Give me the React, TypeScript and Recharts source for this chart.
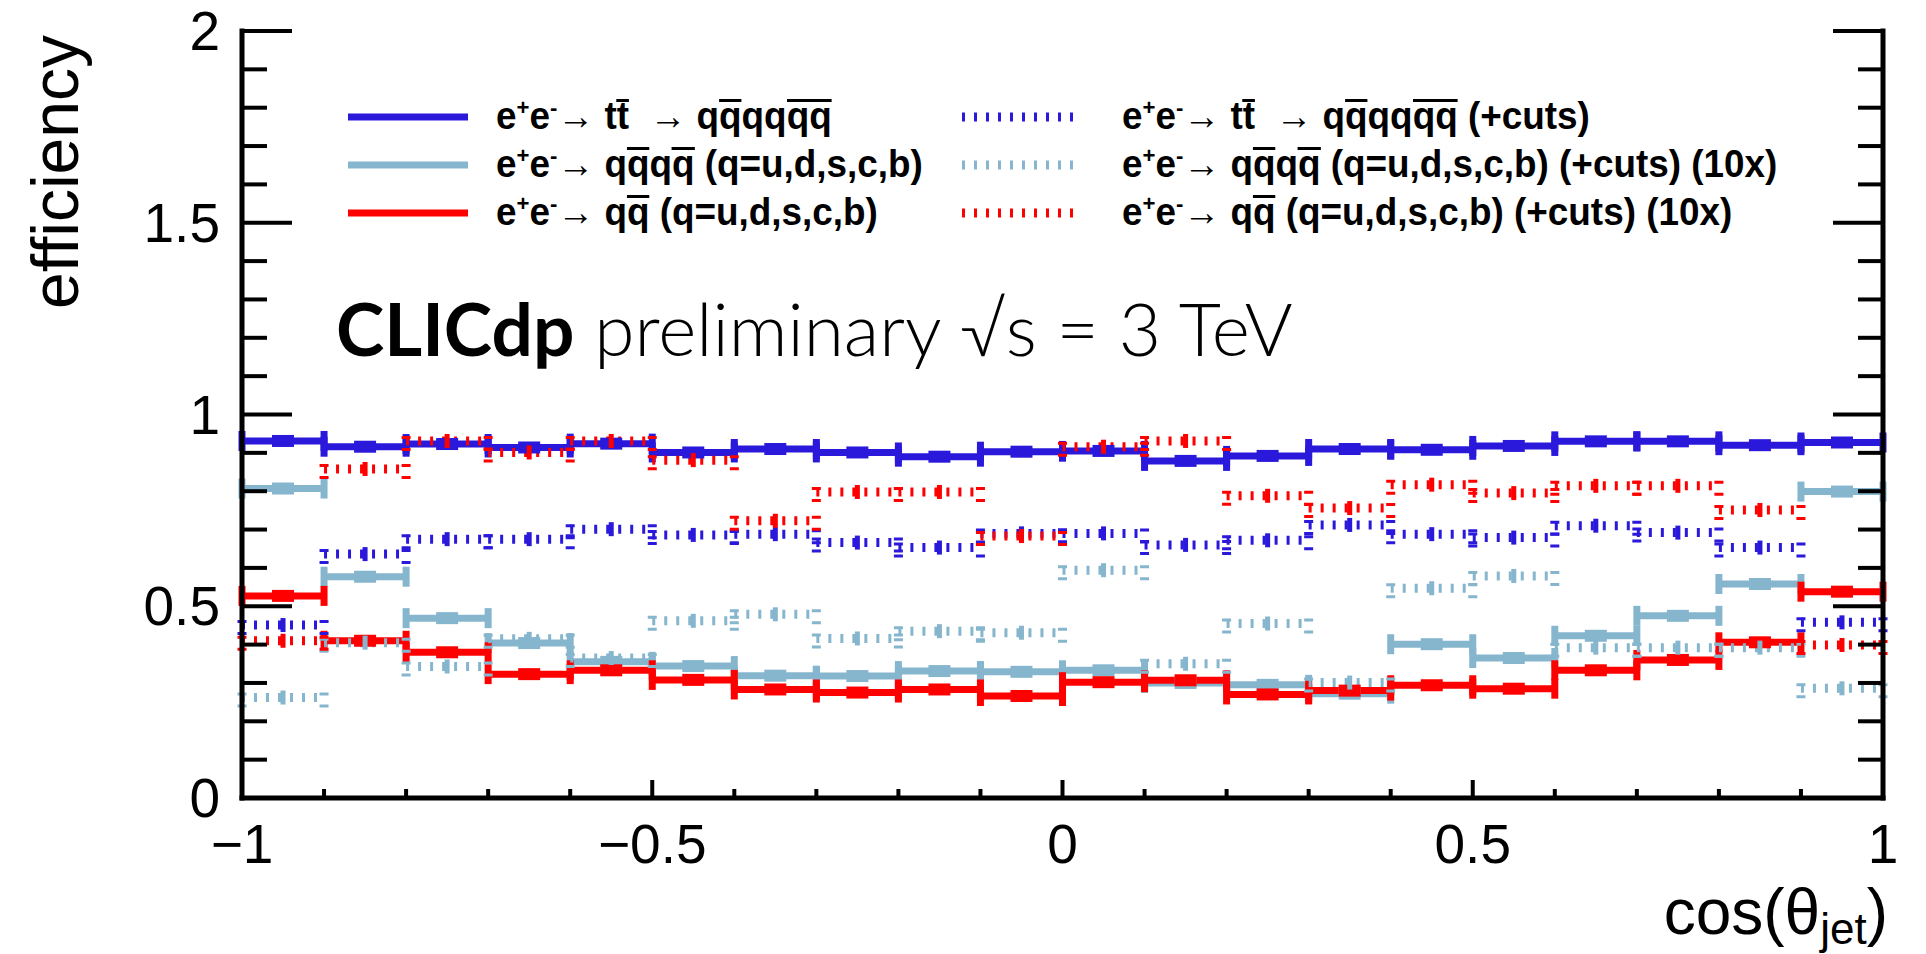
import React from "react";
import { ComposedChart, ErrorBar, Scatter, XAxis, YAxis } from "recharts";

document.body.style.margin = "0";

// 20 bins of cos(theta_jet), width 0.1
const binCenters = [
  -0.95, -0.85, -0.75, -0.65, -0.55, -0.45, -0.35, -0.25, -0.15, -0.05,
  0.05, 0.15, 0.25, 0.35, 0.45, 0.55, 0.65, 0.75, 0.85, 0.95,
];
const binHalfWidth = 0.05;

const ttbarSixJet = [
  0.931, 0.916, 0.923, 0.914, 0.924, 0.901, 0.91, 0.901, 0.89, 0.903,
  0.905, 0.879, 0.892, 0.91, 0.908, 0.918, 0.93, 0.93, 0.92, 0.927,
];
const fourQuark = [
  0.807, 0.577, 0.469, 0.404, 0.355, 0.344, 0.319, 0.318, 0.331, 0.329,
  0.333, 0.3, 0.295, 0.272, 0.401, 0.365, 0.423, 0.475, 0.558, 0.799,
];
const twoQuark = [
  0.527, 0.41, 0.38, 0.323, 0.333, 0.308, 0.283, 0.275, 0.283, 0.266,
  0.302, 0.307, 0.27, 0.28, 0.294, 0.285, 0.333, 0.36, 0.406, 0.538,
];
const ttbarSixJetCuts = [
  0.451, 0.636, 0.675, 0.675, 0.701, 0.686, 0.688, 0.666, 0.653, 0.69,
  0.69, 0.66, 0.672, 0.712, 0.688, 0.679, 0.71, 0.692, 0.653, 0.458,
];
const fourQuarkCuts = [
  0.262, 0.405, 0.343, 0.415, 0.365, 0.462, 0.479, 0.416, 0.435, 0.431,
  0.594, 0.35, 0.455, 0.301, 0.547, 0.579, 0.392, 0.392, 0.392, 0.286,
];
const twoQuarkCuts = [
  0.41, 0.858, 0.931, 0.901, 0.931, 0.881, 0.723, 0.798, 0.798, 0.683,
  0.916, 0.931, 0.788, 0.756, 0.817, 0.795, 0.814, 0.814, 0.751, 0.399,
];

const xTicks = [
  -1, -0.9, -0.8, -0.7, -0.6, -0.5, -0.4, -0.3, -0.2, -0.1, 0,
  0.1, 0.2, 0.3, 0.4, 0.5, 0.6, 0.7, 0.8, 0.9, 1,
];
const yTicks = [
  0, 0.1, 0.2, 0.3, 0.4, 0.5, 0.6, 0.7, 0.8, 0.9, 1,
  1.1, 1.2, 1.3, 1.4, 1.5, 1.6, 1.7, 1.8, 1.9, 2,
];

const BLUE = "#2a19db";
const LIGHT_BLUE = "#86b6ce";
const RED = "#ff0000";
const FONT = "'Liberation Sans', Arial, Helvetica, sans-serif";

type Series = { name: string; values: number[]; color: string; dotted: boolean };

const series: Series[] = [
  { name: "ttbar", values: ttbarSixJet, color: BLUE, dotted: false },
  { name: "qqqq", values: fourQuark, color: LIGHT_BLUE, dotted: false },
  { name: "qq", values: twoQuark, color: RED, dotted: false },
  { name: "ttbarCuts", values: ttbarSixJetCuts, color: BLUE, dotted: true },
  { name: "qqqqCuts", values: fourQuarkCuts, color: LIGHT_BLUE, dotted: true },
  { name: "qqCuts", values: twoQuarkCuts, color: RED, dotted: true },
];

const toPoints = (values: number[]) =>
  binCenters.map((x, i) => ({ x, y: values[i], ex: binHalfWidth }));

const isMajor = (v: number) => Math.abs(v * 2 - Math.round(v * 2)) < 1e-6;
const fmt = (v: number) => String(v).replace("-", "\u2212");

const frame = { stroke: "#000", strokeWidth: 5, strokeLinecap: "square" as const };

function XTick(props: any) {
  const { x, y, payload, side } = props;
  const major = isMajor(payload.value);
  const len = major ? 18 : 9;
  const dir = side === "bottom" ? -1 : 1;
  return (
    <g>
      <line x1={x} x2={x} y1={y} y2={y + dir * len} stroke="#000" strokeWidth={4} />
      {side === "bottom" && major && (
        <text x={x} y={y + 65} textAnchor="middle" fontSize={55} fontFamily={FONT} fill="#000">
          {fmt(payload.value)}
        </text>
      )}
    </g>
  );
}

function YTick(props: any) {
  const { x, y, payload, side } = props;
  const major = isMajor(payload.value);
  const len = major ? 50 : 25;
  const dir = side === "left" ? 1 : -1;
  return (
    <g>
      <line x1={x} x2={x + dir * len} y1={y} y2={y} stroke="#000" strokeWidth={4} />
      {side === "left" && major && (
        <text x={x - 22} y={y + 19} textAnchor="end" fontSize={55} fontFamily={FONT} fill="#000">
          {fmt(payload.value)}
        </text>
      )}
    </g>
  );
}

// bar over one or more letters (anti-quark notation)
const Ov = ({ children }: { children: React.ReactNode }) => (
  <span
    style={{
      display: "inline-block",
      borderTop: "3px solid #000",
      lineHeight: "0.74em",
    }}
  >
    {children}
  </span>
);
const EE = () => (
  <>
    e<sup style={{ fontSize: "0.6em", lineHeight: 0 }}>+</sup>e
    <sup style={{ fontSize: "0.6em", lineHeight: 0 }}>-</sup>
    <span style={{ fontWeight: 400 }}>{"\u2192"}</span>{" "}
  </>
);

const legendRows: { label: React.ReactNode; color: string; dotted: boolean; col: number; row: number }[] = [
  {
    label: (
      <>
        <EE />t<Ov>t</Ov>
        {"  "}
        <span style={{ fontWeight: 400 }}>{"\u2192"}</span>
        {" "}q<Ov>q</Ov>qq<Ov>qq</Ov>
      </>
    ),
    color: BLUE,
    dotted: false,
    col: 0,
    row: 0,
  },
  {
    label: (
      <>
        <EE />q<Ov>q</Ov>q<Ov>q</Ov> (q=u,d,s,c,b)
      </>
    ),
    color: LIGHT_BLUE,
    dotted: false,
    col: 0,
    row: 1,
  },
  {
    label: (
      <>
        <EE />q<Ov>q</Ov> (q=u,d,s,c,b)
      </>
    ),
    color: RED,
    dotted: false,
    col: 0,
    row: 2,
  },
  {
    label: (
      <>
        <EE />t<Ov>t</Ov>
        {"  "}
        <span style={{ fontWeight: 400 }}>{"\u2192"}</span>
        {" "}q<Ov>q</Ov>qq<Ov>qq</Ov> (+cuts)
      </>
    ),
    color: BLUE,
    dotted: true,
    col: 1,
    row: 0,
  },
  {
    label: (
      <>
        <EE />q<Ov>q</Ov>q<Ov>q</Ov> (q=u,d,s,c,b) (+cuts) (10x)
      </>
    ),
    color: LIGHT_BLUE,
    dotted: true,
    col: 1,
    row: 1,
  },
  {
    label: (
      <>
        <EE />q<Ov>q</Ov> (q=u,d,s,c,b) (+cuts) (10x)
      </>
    ),
    color: RED,
    dotted: true,
    col: 1,
    row: 2,
  },
];

const rowY = [117, 165, 213];
const sampleLeft = [348, 962];
const textLeft = [496, 1122];

function Legend() {
  return (
    <>
      {legendRows.map((r, i) => (
        <React.Fragment key={i}>
          <svg
            style={{ position: "absolute", left: sampleLeft[r.col], top: rowY[r.row] - 6 }}
            width={120}
            height={12}
          >
            <line
              x1={0}
              x2={120}
              y1={6}
              y2={6}
              stroke={r.color}
              strokeWidth={r.dotted ? 9 : 7}
              strokeDasharray={r.dotted ? "3 9" : undefined}
            />
          </svg>
          <div
            style={{
              position: "absolute",
              left: textLeft[r.col],
              top: rowY[r.row] - 24,
              height: 46,
              lineHeight: "46px",
              fontFamily: FONT,
              fontWeight: 700,
              fontSize: 38,
              whiteSpace: "pre",
              color: "#000",
              transform: "scaleX(0.97)",
              transformOrigin: "left center",
            }}
          >
            {r.label}
          </div>
        </React.Fragment>
      ))}
    </>
  );
}

export default function App() {
  return (
    <div style={{ position: "relative", width: 1926, height: 954, background: "#fff" }}>
      <ComposedChart width={1926} height={954} margin={{ top: 31, right: 0, bottom: 0, left: 0 }}>
        <XAxis
          xAxisId="b"
          type="number"
          dataKey="x"
          domain={[-1, 1]}
          allowDataOverflow
          ticks={xTicks}
          interval={0}
          height={156}
          tickSize={0}
          tickMargin={0}
          tickLine={false}
          axisLine={frame}
          tick={(p: any) => <XTick {...p} side="bottom" />}
        />
        <XAxis
          xAxisId="t"
          orientation="top"
          type="number"
          domain={[-1, 1]}
          allowDataOverflow
          ticks={xTicks}
          interval={0}
          height={0}
          tickSize={0}
          tickMargin={0}
          tickLine={false}
          axisLine={frame}
          tick={(p: any) => <XTick {...p} side="top" />}
        />
        <YAxis
          yAxisId="l"
          type="number"
          dataKey="y"
          domain={[0, 2]}
          allowDataOverflow
          ticks={yTicks}
          interval={0}
          width={242}
          tickSize={0}
          tickMargin={0}
          tickLine={false}
          axisLine={frame}
          tick={(p: any) => <YTick {...p} side="left" />}
        />
        <YAxis
          yAxisId="r"
          orientation="right"
          type="number"
          domain={[0, 2]}
          allowDataOverflow
          ticks={yTicks}
          interval={0}
          width={43}
          tickSize={0}
          tickMargin={0}
          tickLine={false}
          axisLine={frame}
          tick={(p: any) => <YTick {...p} side="right" />}
        />
        {series.map((s) => (
          <Scatter
            key={s.name}
            name={s.name}
            data={toPoints(s.values)}
            xAxisId="b"
            yAxisId="l"
            isAnimationActive={false}
            shape={(p: any) =>
              s.dotted ? (
                <rect x={p.cx - 2.5} y={p.cy - 7} width={5} height={14} fill={s.color} />
              ) : (
                <rect x={p.cx - 11} y={p.cy - 6} width={22} height={12} fill={s.color} />
              )
            }
          >
            <ErrorBar
              dataKey="ex"
              direction="x"
              width={10}
              stroke={s.color}
              strokeWidth={s.dotted ? 9 : 7}
              strokeDasharray={s.dotted ? "3 9" : undefined}
              isAnimationActive={false}
            />
          </Scatter>
        ))}
      </ComposedChart>

      <svg
        width={1926}
        height={954}
        style={{ position: "absolute", left: 0, top: 0, pointerEvents: "none" }}
      >
        <text
          transform="translate(78, 35) rotate(-90)"
          textAnchor="end"
          fontSize={66}
          fontFamily={FONT}
          fill="#000"
        >
          efficiency
        </text>
        <text x={1888} y={934} textAnchor="end" fontSize={64} fontFamily={FONT} fill="#000">
          cos(θ<tspan fontSize={44} dy={10}>jet</tspan>
          <tspan dy={-10}>)</tspan>
        </text>
        <text x={336} y={356} fontSize={73} fontFamily="Lato, 'Open Sans', sans-serif" fill="#000">
          <tspan fontWeight={700}>CLICdp</tspan>
          <tspan fontWeight={300}>{" preliminary \u221As = 3 TeV"}</tspan>
        </text>
      </svg>
      <Legend />
    </div>
  );
}
